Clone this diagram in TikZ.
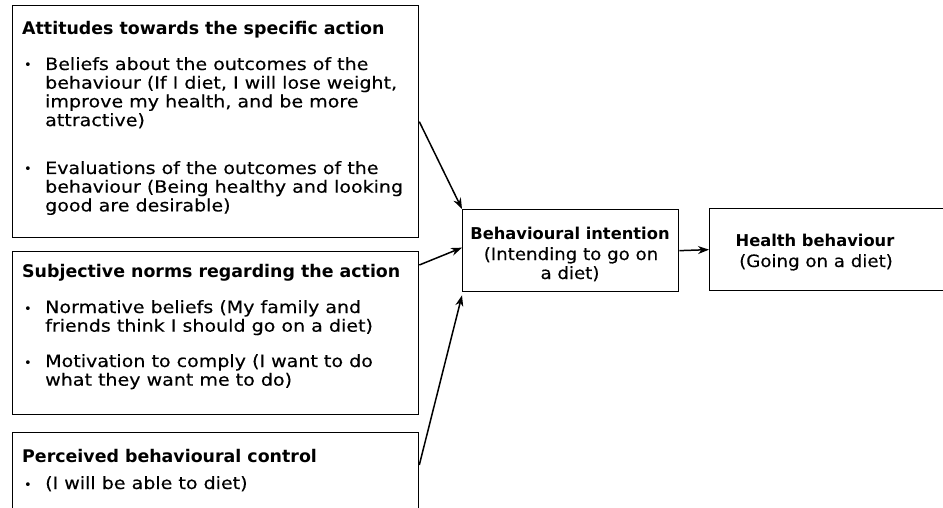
\documentclass[tikz,border=0pt]{standalone}
\usepackage{fontspec}
\setmainfont{DejaVu Sans}
\newfontfamily\bodyf{DejaVu Sans}[FakeStretch=1.12, FakeBold=0.3]
\newfontfamily\sidef{DejaVu Sans}[FakeStretch=1.07, FakeBold=0.3]
\usetikzlibrary{arrows.meta}
\begin{document}
\begin{tikzpicture}[x=1pt,y=-1pt,
  box/.style={draw, line width=1.3pt, inner sep=0pt, anchor=north west},
  txt/.style={anchor=base west, inner sep=0pt, font=\bodyf\fontsize{17}{19}\selectfont},
  hd/.style={anchor=base west, inner sep=0pt, font=\fontsize{17.4}{19}\selectfont\bfseries},
  ctr/.style={anchor=base, inner sep=0pt, font=\sidef\fontsize{17}{19}\selectfont},
  ctrhd/.style={anchor=base, inner sep=0pt, font=\fontsize{16.3}{19}\selectfont\bfseries},
  dot/.style={anchor=base west, inner sep=0pt, font=\fontsize{13}{13}\selectfont},
  arr/.style={line width=1.5pt, -{Stealth[length=11pt,width=8pt]}}]
\useasboundingbox (0,0) rectangle (943,508);
\clip (0,0) rectangle (943,508);

% boxes
\node[box, minimum width=406pt, minimum height=232pt] (att) at (12,5) {};
\node[box, minimum width=406pt, minimum height=163pt] (sub) at (12,251) {};
\node[box, minimum width=406pt, minimum height=120pt] (pbc) at (12,432) {};
\node[box, minimum width=216pt, minimum height=82pt] (bi) at (462,209) {};
\node[box, minimum width=260pt, minimum height=82pt] (hb) at (709,208) {};

% attitudes
\node[hd] (att-t) at (22,35) {Attitudes towards the specific action};
\node[dot] (att-d1) at (24,70) {•};
\node[dot] (att-d2) at (24,174) {•};
\foreach \n/\y/\t in {att-1/70/{Beliefs about the outcomes of the},
    att-2/88.7/{behaviour (If I diet, I will lose weight,},
    att-3/107.4/{improve my health, and be more},
    att-4/126.1/{attractive)},
    att-5/174/{Evaluations of the outcomes of the},
    att-6/192.7/{behaviour (Being healthy and looking},
    att-7/211.4/{good are desirable)}}
  \node[txt] (\n) at (45,\y) {\t};

% subjective norms
\node[hd] (sub-t) at (22,277) {Subjective norms regarding the action};
\node[dot] (sub-d1) at (24,313) {•};
\node[dot] (sub-d2) at (24,367) {•};
\foreach \n/\y/\t in {sub-1/313/{Normative beliefs (My family and},
    sub-2/331.7/{friends think I should go on a diet)},
    sub-3/367/{Motivation to comply (I want to do},
    sub-4/385.7/{what they want me to do)}}
  \node[txt] (\n) at (45,\y) {\t};

% perceived control
\node[hd] (pbc-t) at (22,462) {Perceived behavioural control};
\node[dot] (pbc-d1) at (24,489) {•};
\node[txt] (pbc-1) at (45,489) {(I will be able to diet)};

% intention and behaviour
\node[ctrhd] (bi-t) at (570,239.5) {Behavioural intention};
\node[ctr] (bi-1) at (571,260) {(Intending to go on};
\node[ctr] (bi-2) at (570,279) {a diet)};
\node[ctrhd] (hb-t) at (815,246.5) {Health behaviour};
\node[ctr] (hb-1) at (816,267) {(Going on a diet)};

% connectors
\draw[arr] (att.east) -- (bi.north west);
\draw[arr] ([yshift=-14pt]sub.north east) -- ([yshift=3pt]bi.west);
\draw[arr] ([yshift=-33pt]pbc.north east) -- ([yshift=-3pt]bi.south west);
\draw[arr] (bi.east) -- (hb.west);
\end{tikzpicture}
\end{document}
